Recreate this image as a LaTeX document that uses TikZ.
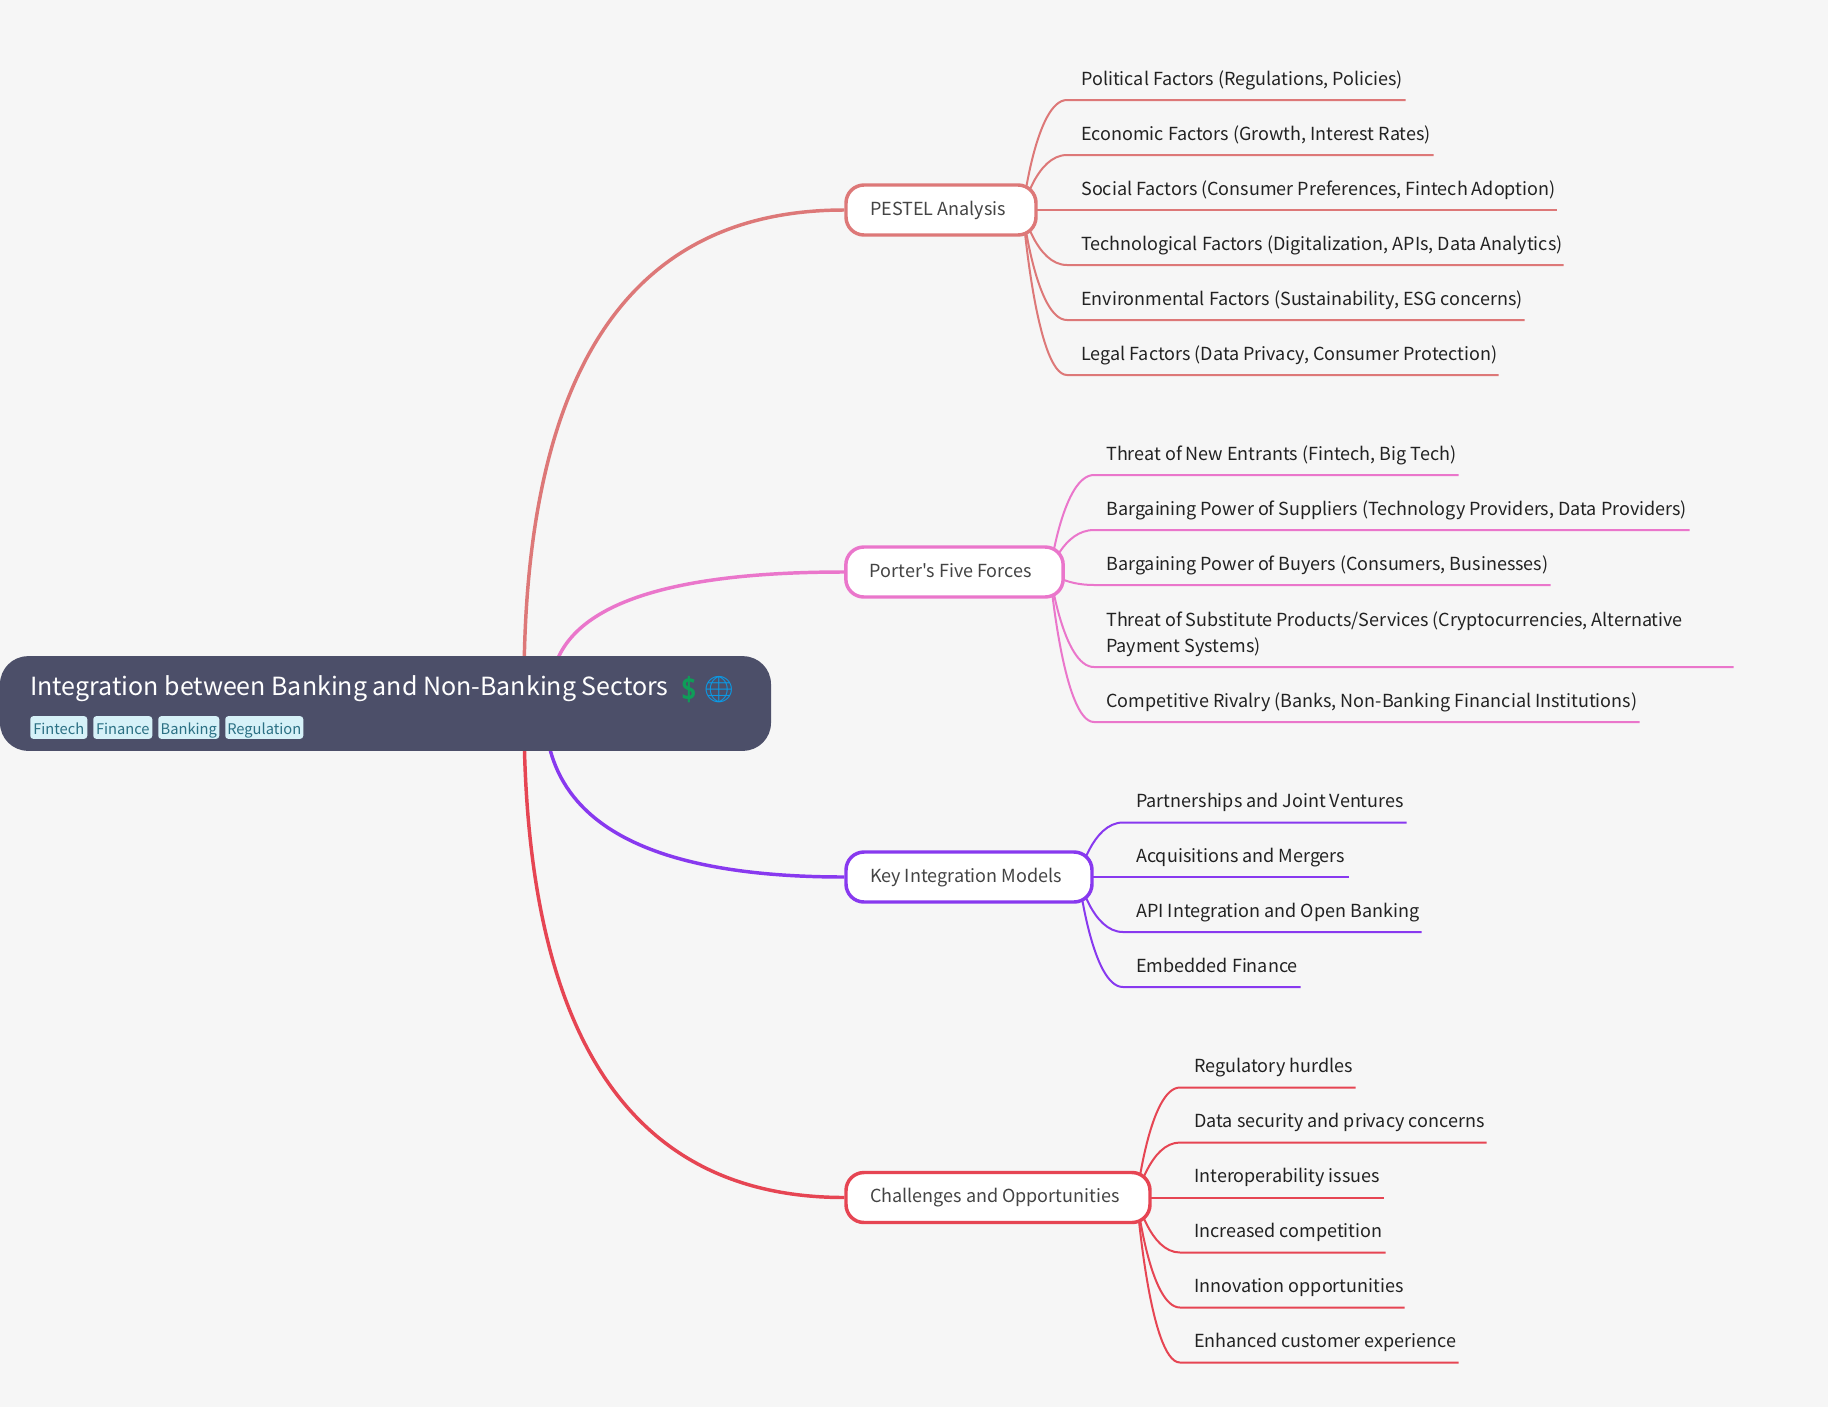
\documentclass[tikz,border=0pt]{standalone}
\usepackage{fontspec}
\setmainfont{Noto Sans CJK SC}
\newfontfamily\plainsrc[Ligatures=ResetAll]{Noto Sans CJK SC}
\newfontfamily\emojifont{Noto Emoji}
\usetikzlibrary{calc,backgrounds}
\definecolor{bgc}{HTML}{F6F6F6}
\definecolor{rootc}{HTML}{4C4F69}
\definecolor{colA}{HTML}{DD7878}
\definecolor{colB}{HTML}{EA76CB}
\definecolor{colC}{HTML}{8839EF}
\definecolor{colD}{HTML}{E64553}
\definecolor{tagbg}{HTML}{D6F1F8}
\definecolor{tagfg}{HTML}{2B7084}
\definecolor{branchfg}{HTML}{444444}
\definecolor{leaffg}{HTML}{222222}
\definecolor{dollarc}{HTML}{0F9D58}
\definecolor{globec}{HTML}{0A9AE6}
\newcommand{\gap}[1]{\spaceskip=#1\relax}
\tikzset{
  x=0.75pt,y=-0.75pt,
  branchbox/.style={draw=#1,fill=white,line width=2.6pt,rounded corners=13.5pt,inner xsep=18pt,inner ysep=0pt,
    minimum height=37.5pt,align=none,text=branchfg,font=\fontsize{13.5pt}{18pt}\selectfont,text height=10.5pt,text depth=3pt},
  leafbox/.style={anchor=south west,inner sep=0pt,text=leaffg,
    font=\fontsize{13.5pt}{19.5pt}\selectfont,text depth=11pt},
  taglabel/.style={fill=tagbg,text=tagfg,rounded corners=2.25pt,inner sep=0pt,minimum height=17pt,
    font=\fontsize{11pt}{14pt}\selectfont,text height=13.5pt,text depth=2.5pt},
  mainlink/.style={draw=#1,line width=2.6pt},
  sublink/.style={draw=#1,line width=1.5pt},
}
% \leafn{name}{x of curve end}{x of line end}{y of line}{text inset}{text}
\newcommand{\leafn}[6]{%
  \path let \n1={(#3-#2)*0.75} in node[leafbox,text width=\n1 pt] (#1) at (#2,#4)
    {\hspace*{\dimexpr#5pt*3/4\relax}\gap{3pt}\begin{tabular}[b]{@{}l@{}}#6\end{tabular}};}
\newcommand{\sublk}[3]{%
  \coordinate (s) at ([xshift=-11.25pt]#2.east);
  \coordinate (c) at ($(s)!.3!(#3.south west)$);
  \draw[sublink=#1] (s) .. controls (s) and (c |- #3.south west) .. (#3.south west) -- (#3.south east);}
\newcommand{\mainlk}[4]{%
  \coordinate (s) at ([xshift=#3*0.75pt,yshift=#4*-0.75pt]root.center);
  \coordinate (c) at (s |- #2.west);
  \draw[mainlink=#1] (s) .. controls ($(s)!.667!(c)$) and ($(#2.west)!.667!(c)$) .. (#2.west);}
\begin{document}
\begin{tikzpicture}
\useasboundingbox (0,0) rectangle (1828,1407);
\begin{scope}[on background layer]
\fill[bgc] (0,0) rectangle (1828,1407);
\end{scope}
% root
\node[fill=rootc,rounded corners=21pt,minimum width=578.25pt,minimum height=71pt,inner sep=0pt] (root) at (385.5,703.5) {};
\node[anchor=base west,inner sep=0pt,text=white,font=\fontsize{18.75pt}{24pt}\selectfont] (title) at (30,695) {\gap{4.2pt}Integration between Banking and Non-Banking Sectors};
\node[anchor=base west,inner sep=0pt,text=dollarc,font=\emojifont\fontsize{19.5pt}{20pt}\selectfont] (emoA) at (672,698) {\symbol{"1F4B2}};
\node[anchor=base west,inner sep=0pt,text=globec,font=\emojifont\fontsize{19.5pt}{20pt}\selectfont] (emoB) at (702,698) {\symbol{"1F310}};
\node[taglabel,anchor=west,minimum width=42.75pt] (t1) at (30,727.5) {Fintech};
\node[taglabel,anchor=west,minimum width=44.25pt] (t2) at (93,727.5) {Finance};
\node[taglabel,anchor=west,minimum width=45.75pt] (t3) at (158,727.5) {Banking};
\node[taglabel,anchor=west,minimum width=58.5pt] (t4) at (225,727.5) {Regulation};
% branches
\node[branchbox=colA,text width=106.5pt] (pestel) at (941,210) {\gap{3pt}\mbox{PESTEL Analysis}};
\node[branchbox=colB,text width=127pt] (porter) at (954.5,572) {\gap{3pt}\mbox{\plainsrc Porter's Five Forces}};
\node[branchbox=colC,text width=148.5pt] (key) at (969,877) {\gap{3pt}\mbox{Key Integration Models}};
\node[branchbox=colD,text width=192pt] (chal) at (998,1197.5) {\gap{3pt}\mbox{Challenges and Opportunities}};
% leaves
\leafn{pa}{1067}{1405}{100}{14}{Political Factors (Regulations, Policies)}
\leafn{pb}{1067}{1433}{155}{14}{Economic Factors (Growth, Interest Rates)}
\leafn{pc}{1067}{1556}{210}{14}{Social Factors (Consumer Preferences, Fintech Adoption)}
\leafn{pd}{1067}{1563}{265}{14}{Technological Factors (Digitalization, APIs, Data Analytics)}
\leafn{pe}{1067}{1524}{320}{14}{Environmental Factors (Sustainability, ESG concerns)}
\leafn{pf}{1067}{1498}{375}{14}{Legal Factors (Data Privacy, Consumer Protection)}
\leafn{qa}{1094}{1458}{475}{12}{Threat of New Entrants (Fintech, Big Tech)}
\leafn{qb}{1094}{1689}{530}{12}{Bargaining Power of Suppliers (Technology Providers, Data Providers)}
\leafn{qc}{1094}{1550}{585}{12}{Bargaining Power of Buyers (Consumers, Businesses)}
\leafn{qd}{1094}{1733}{667}{12}{Threat of Substitute Products/Services (Cryptocurrencies, Alternative\\Payment Systems)}
\leafn{qe}{1094}{1639}{722}{12}{Competitive Rivalry (Banks, Non-Banking Financial Institutions)}
\leafn{ka}{1123}{1406}{822.5}{13}{Partnerships and Joint Ventures}
\leafn{kb}{1123}{1348}{877}{13}{Acquisitions and Mergers}
\leafn{kc}{1123}{1421}{932}{13}{API Integration and Open Banking}
\leafn{kd}{1123}{1300}{987}{13}{Embedded Finance}
\leafn{ca}{1180}{1355}{1087.5}{14}{Regulatory hurdles}
\leafn{cb}{1180}{1486}{1142.5}{14}{Data security and privacy concerns}
\leafn{cc}{1180}{1383}{1197.5}{14}{Interoperability issues}
\leafn{cd}{1180}{1385}{1252.5}{14}{Increased competition}
\leafn{ce}{1180}{1404}{1307.5}{14}{Innovation opportunities}
\leafn{cf}{1180}{1458}{1362.5}{14}{Enhanced customer experience}
\begin{scope}[on background layer]
\mainlk{colA}{pestel}{138.5}{-17}
\mainlk{colB}{porter}{165.5}{-11}
\mainlk{colC}{key}{159.5}{5}
\mainlk{colD}{chal}{138.5}{10}
\foreach \l in {pa,pb,pc,pd,pe,pf}{\sublk{colA}{pestel}{\l}}
\foreach \l in {qa,qb,qc,qd,qe}{\sublk{colB}{porter}{\l}}
\foreach \l in {ka,kb,kc,kd}{\sublk{colC}{key}{\l}}
\foreach \l in {ca,cb,cc,cd,ce,cf}{\sublk{colD}{chal}{\l}}
\end{scope}
\end{tikzpicture}
\end{document}
